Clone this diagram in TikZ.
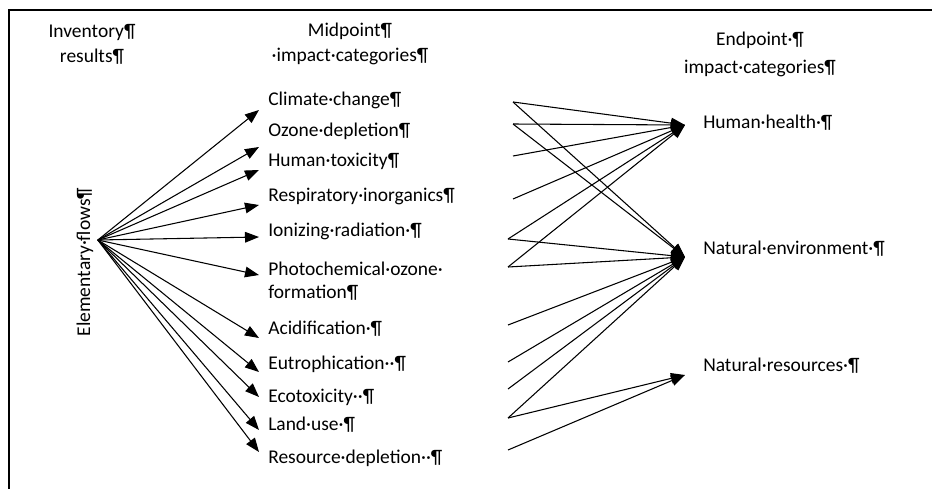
\documentclass[tikz,border=0pt]{standalone}
\usepackage{fontspec}
\setmainfont{Carlito}
\usepackage{tikz}
\usetikzlibrary{positioning,arrows.meta}

\begin{document}
\begin{tikzpicture}[
    x=0.75pt, y=-0.75pt,
    every node/.style={font=\fontsize{14.6}{18.75}\selectfont},
    heading/.style={align=center},
    midcat/.style={anchor=west, inner xsep=6.75pt, align=left},
    endcat/.style={anchor=west, inner xsep=13.5pt},
    flow/.style={line width=0.8pt, -{Triangle[length=10.5pt,width=8pt]}}
]
\useasboundingbox (0,0) rectangle (932,489);
\draw[line width=1.5pt] (9,489) -- (9,10) -- (932,10);

% headings
\node[heading] (inventory) at (92,44) {Inventory¶\\results¶};
\node[heading] (midpoint) at (350,44) {Midpoint¶\\·impact·categories¶};
\node[heading] (endpoint) at (760,54) {Endpoint·¶\\[2.25pt]impact·categories¶};

% inventory
\node[rotate=90, anchor=base] (ef) at (90,262) {Elementary·flows¶};

% midpoint categories
\node[midcat] (climate) at (259,100) {Climate·change¶};
\node[midcat] (ozone) at (259,131) {Ozone·depletion¶};
\node[midcat] (humantox) at (259,161) {Human·toxicity¶};
\node[midcat] (resp) at (259,196) {Respiratory·inorganics¶};
\node[midcat] (ionizing) at (259,231) {Ionizing·radiation·¶};
\node[midcat] (photochem) at (259,281) {Photochemical·ozone·\\[-2pt]formation¶};
\node[midcat] (acid) at (259,329) {Acidification·¶};
\node[midcat] (eutro) at (259,364) {Eutrophication··¶};
\node[midcat] (ecotox) at (259,397) {Ecotoxicity··¶};
\node[midcat] (landuse) at (259,425) {Land·use·¶};
\node[midcat] (resdepl) at (259,458) {Resource·depletion··¶};

% endpoint categories
\node[endcat] (health) at (685,123) {Human·health·¶};
\node[endcat] (environment) at (685,249) {Natural·environment·¶};
\node[endcat] (resources) at (685,366) {Natural·resources·¶};

% free ends of the links
\coordinate (p1) at (513,102);
\coordinate (p2) at (513,124);
\coordinate (p3) at (513,156);
\coordinate (p4) at (513,199);
\coordinate (p5) at (508,239);
\coordinate (p6) at (508,267);
\coordinate (p7) at (508,325);
\coordinate (p8) at (508,362);
\coordinate (p9) at (508,389);
\coordinate (p10) at (508,418);
\coordinate (p11) at (508,450);

\foreach \n/\dy in {climate/-7.5, ozone/-12, humantox/-6.75, resp/-6.75,
    ionizing/-4.5, photochem/4.5, acid/-6.75, eutro/-6, ecotox/0,
    landuse/-3.75, resdepl/4.5}
    \draw[flow] ([yshift=16.5pt]ef.south) -- ([yshift=\dy pt]\n.west);

\foreach \s/\t/\dy in {p1/health/-1.5, p1/environment/-6, p2/health/-1.5,
    p2/environment/-6, p3/health/-1.5, p4/health/-1.5, p5/health/-1.5,
    p5/environment/-6, p6/health/-1.5, p6/environment/-6, p7/environment/-6,
    p8/environment/-6, p9/environment/-6, p10/environment/-6,
    p10/resources/-6.75, p11/resources/-6.75}
    \draw[flow] (\s) -- ([yshift=\dy pt]\t.west);
\end{tikzpicture}
\end{document}
